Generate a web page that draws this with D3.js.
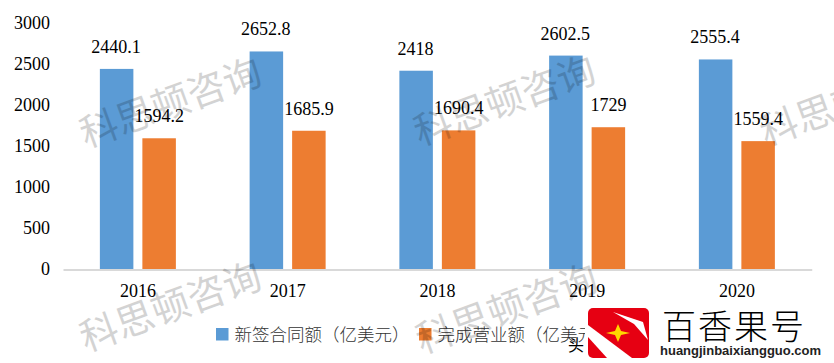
<!DOCTYPE html>
<html>
<head>
<meta charset="utf-8">
<script src="https://cdn.jsdelivr.net/npm/d3@7"></script>
<style>
  html, body { margin: 0; padding: 0; background: #fff; }
  svg { display: block; }
  text { font-family: "Liberation Serif", serif; fill: #000; }
  .cjk { font-family: "Noto Sans CJK SC", sans-serif; }
</style>
</head>
<body>
<div id="chart"></div>
<script>
const years = ["2016", "2017", "2018", "2019", "2020"];
const contractValues = [2440.1, 2652.8, 2418, 2602.5, 2555.4];
const revenueValues = [1594.2, 1685.9, 1690.4, 1729, 1559.4];
const yTicks = [0, 500, 1000, 1500, 2000, 2500, 3000];
const seriesNames = ["新签合同额（亿美元）", "完成营业额（亿美元）"];
const watermarkText = "科思顿咨询";

const fullWidth = 834, fullHeight = 363;
const blue = "#5b9bd5", orange = "#ed7d31";

const svg = d3.select("#chart").append("svg")
    .attr("width", fullWidth).attr("height", fullHeight);

const x = d3.scaleBand().domain(years).range([63, 811.75]);
const y = d3.scaleLinear().domain([0, 3000]).range([269, 23]);

// axes
const yAxis = svg.append("g").attr("transform", "translate(63,0)")
    .call(d3.axisLeft(y).tickValues(yTicks).tickFormat(d3.format("d")).tickSize(0).tickPadding(13));
yAxis.select(".domain").remove();
yAxis.selectAll("text").style("font-size", "18px").style("font-family", "Liberation Serif");

const xAxis = svg.append("g").attr("transform", "translate(0,269.5)")
    .call(d3.axisBottom(x).tickSize(0).tickPadding(15));
xAxis.select(".domain").attr("stroke", "#d9d9d9").attr("stroke-width", 2);
xAxis.selectAll("text").style("font-size", "18px").style("font-family", "Liberation Serif");

// bars
const barW = 33.5, barGap = 9;
const blueCenter = i => x(years[i]) + x.bandwidth() / 2 - barGap / 2 - barW / 2;
const orangeCenter = i => x(years[i]) + x.bandwidth() / 2 + barGap / 2 + barW / 2;

svg.append("g").selectAll("rect").data(contractValues).join("rect")
    .attr("x", (d, i) => blueCenter(i) - barW / 2)
    .attr("width", barW)
    .attr("y", d => y(d))
    .attr("height", d => y(0) - y(d))
    .attr("fill", blue);
svg.append("g").selectAll("rect").data(revenueValues).join("rect")
    .attr("x", (d, i) => orangeCenter(i) - barW / 2)
    .attr("width", barW)
    .attr("y", d => y(d))
    .attr("height", d => y(0) - y(d))
    .attr("fill", orange);

// value labels
const labels = svg.append("g").style("font-size", "18px").attr("text-anchor", "middle");
labels.selectAll(".contract").data(contractValues).join("text").attr("class", "contract")
    .attr("x", (d, i) => blueCenter(i) - 0.7)
    .attr("y", d => y(d) - 16)
    .text(d => d);
labels.selectAll(".revenue").data(revenueValues).join("text").attr("class", "revenue")
    .attr("x", (d, i) => orangeCenter(i))
    .attr("y", d => y(d) - 16)
    .text(d => d);

// legend
const legendX = [216, 419];
const legend = svg.append("g");
legend.selectAll("rect").data(seriesNames).join("rect")
    .attr("x", (d, i) => legendX[i]).attr("y", 328)
    .attr("width", 12.5).attr("height", 12.5)
    .attr("fill", (d, i) => i ? orange : blue);
legend.selectAll("text").data(seriesNames).join("text").attr("class", "cjk")
    .attr("x", (d, i) => legendX[i] + 18.5).attr("y", 341)
    .style("font-size", "17.5px").style("font-weight", "300").style("fill", "#333")
    .text(d => d);

// watermarks
const marks = [[86, 148], [86, 352], [420, 146], [422, 354], [766, 146], [792, 358]];
svg.append("g").selectAll("text").data(marks).join("text").attr("class", "cjk")
    .attr("transform", d => `translate(${d[0]},${d[1]}) rotate(-20)`)
    .style("font-size", "38px").style("fill", "#000").style("opacity", 0.17)
    .text(watermarkText);

// logo patch over the bottom right corner
const logo = svg.append("g");
logo.append("rect").attr("x", 585).attr("y", 306).attr("width", 249).attr("height", 57).attr("fill", "#fff");
logo.append("rect").attr("x", 588).attr("y", 308).attr("width", 61).attr("height", 50).attr("rx", 5).attr("fill", "#e60012");
logo.append("path").attr("d", d3.line()([[588, 325], [632, 358], [607, 358], [588, 337]])).attr("fill", "#fff");
logo.append("path").attr("d", d3.line()([[618, 324], [621, 331], [630, 333], [621, 335], [618, 342], [615, 335], [606, 333], [615, 331]])).attr("fill", "#ffd800");
logo.append("path").attr("d", d3.line()([[613, 312], [643, 322], [648, 340], [634, 324]])).attr("fill", "#fff");
logo.append("text").attr("class", "cjk").attr("x", 662).attr("y", 339)
    .style("font-size", "34px").style("font-weight", "300").style("letter-spacing", "2px").text("百香果号");
logo.append("text").attr("x", 660).attr("y", 355)
    .style("font-family", "Liberation Sans").style("font-size", "13px").style("font-weight", "bold")
    .style("fill", "#222").text("huangjinbaixiangguo.com");
svg.append("text").attr("class", "cjk").attr("x", 568).attr("y", 351)
    .style("font-size", "16px").text("头");
</script>
</body>
</html>
